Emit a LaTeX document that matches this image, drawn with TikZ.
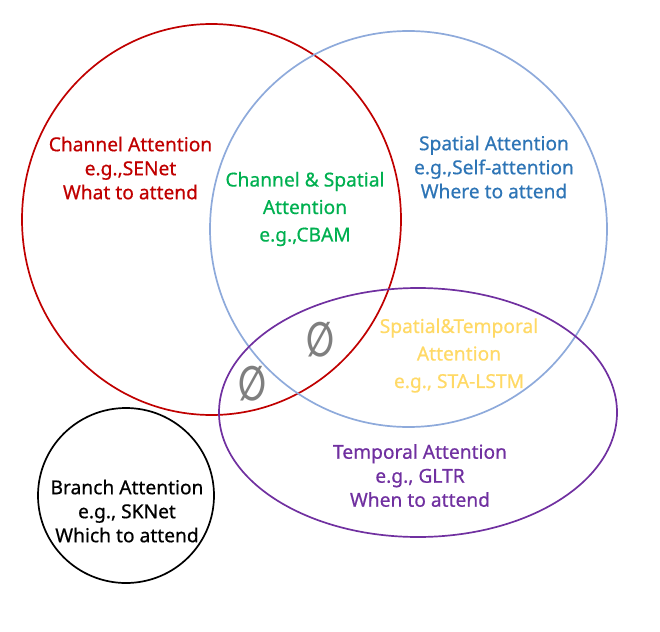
\documentclass[tikz,border=0pt]{standalone}
\usepackage{fontspec}
\setmainfont{Noto Sans}[BoldFont={Noto Sans}, BoldFeatures={FakeBold=0.6}]
\newfontfamily\symfont{DejaVu Sans}
\definecolor{redc}{HTML}{C00000}
\definecolor{bluec}{HTML}{8EAADB}
\definecolor{bluet}{HTML}{2E75B6}
\definecolor{greent}{HTML}{00B050}
\definecolor{yellowt}{HTML}{FFD966}
\definecolor{purplec}{HTML}{7030A0}
\definecolor{grayt}{HTML}{7F7F7F}
\tikzset{
  setline/.style={line width=1.7pt},
  label/.style={align=center, inner sep=0pt, font=\bfseries\fontsize{19.2}{24}\selectfont},
  labelwide/.style={align=center, inner sep=0pt, font=\bfseries\fontsize{19.2}{27.5}\selectfont},
  emptyset/.style={inner sep=0pt, text=grayt, font=\symfont\bfseries\fontsize{48}{48}\selectfont}
}
\begin{document}
\begin{tikzpicture}[x=1pt,y=-1pt]
\path[use as bounding box] (0,0) rectangle (660,631);
% sets
\draw[setline, redc] (211.5,219.5) ellipse [x radius=189.5pt, y radius=195.5pt];
\draw[setline, bluec] (408.5,229) ellipse [x radius=198.5pt, y radius=198pt];
\draw[setline, purplec] (418,412.5) ellipse [x radius=199pt, y radius=124.5pt];
\draw[setline, black] (126,495.5) ellipse [x radius=88pt, y radius=87.5pt];
% labels
\node[label, text=redc] (chan) at (130.5,168) {Channel Attention\\e.g.,SENet\\What to attend};
\node[labelwide, text=greent] (chsp) at (305,209) {Channel \& Spatial\\Attention\\e.g.,CBAM};
\node[label, text=bluet] (spat) at (494,167) {Spatial Attention\\e.g.,Self-attention\\Where to attend};
\node[labelwide, text=yellowt] (sptm) at (459,355.5) {Spatial\&Temporal\\Attention\\e.g., STA-LSTM};
\node[label, text=purplec] (temp) at (420,475.5) {Temporal Attention\\e.g., GLTR\\When to attend};
\node[label, text=black] (bran) at (127,511) {Branch Attention\\e.g., SKNet\\Which to attend};
\node[emptyset] (e1) at (320,340) {\scalebox{0.68}[1]{∅}};
\node[emptyset] (e2) at (252,384) {\scalebox{0.68}[1]{∅}};
\end{tikzpicture}
\end{document}
